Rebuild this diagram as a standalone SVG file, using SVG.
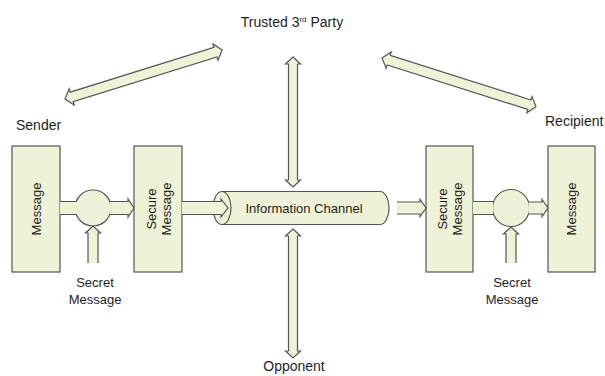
<svg xmlns="http://www.w3.org/2000/svg" width="605" height="376" viewBox="0 0 605 376">
<style>
.f{fill:#eef2d6;stroke:#555;stroke-width:1.2}
.s{fill:#eef2d6;stroke:none}
.o{fill:none;stroke:#555;stroke-width:1.2}
text{font-family:"Liberation Sans",Arial,sans-serif;fill:#1e1e1e}
.l{font-size:14px}
.m{font-size:13px;text-anchor:middle}
</style>
<rect width="605" height="376" fill="#fff"/>

<g id="trusted"><text class="l" x="292" y="27" text-anchor="middle">Trusted 3<tspan font-size="8" dy="-5">rd</tspan><tspan dy="5"> Party</tspan></text></g>
<g id="sender-label"><text class="l" x="16" y="130">Sender</text></g>
<g id="recipient-label"><text class="l" x="545" y="126">Recipient</text></g>
<g id="opponent"><text class="l" x="294" y="371" text-anchor="middle">Opponent</text></g>

<g id="msg-left"><rect class="f" x="12" y="146" width="48" height="126"/><text class="m" transform="translate(40.5,209) rotate(-90)">Message</text></g>
<g id="enc-left"><circle class="f" cx="93" cy="208" r="18"/></g>
<g id="sec-left"><rect class="f" x="134" y="146" width="48" height="126"/><text class="m" transform="translate(155.5,209) rotate(-90)">Secure</text><text class="m" transform="translate(170.5,209) rotate(-90)">Message</text></g>
<g id="channel"><path class="f" d="M222,191.5 L380,191.5 A9,16.5 0 0 1 380,224.5 L222,224.5 A9,16.5 0 0 1 222,191.5 Z"/><path class="o" d="M222,191.5 A9,16.5 0 0 1 222,224.5"/><text x="304" y="212.5" font-size="13" text-anchor="middle">Information Channel</text></g>
<g id="sec-right"><rect class="f" x="426" y="146" width="47" height="126"/><text class="m" transform="translate(446.5,209) rotate(-90)">Secure</text><text class="m" transform="translate(461.5,209) rotate(-90)">Message</text></g>
<g id="dec-right"><circle class="f" cx="511" cy="208" r="18.5"/></g>
<g id="msg-right"><rect class="f" x="548" y="146" width="47" height="126"/><text class="m" transform="translate(576,209) rotate(-90)">Message</text></g>
<g id="secret-left"><text class="m" x="95" y="287">Secret</text><text class="m" x="95" y="304">Message</text></g>
<g id="secret-right"><text class="m" x="512" y="287">Secret</text><text class="m" x="512" y="304">Message</text></g>

<g id="connectors">
<path class="f" transform="translate(65,99) rotate(-17.3)" d="M0,0 L7,-8.5 L7,-5 L157.6,-5 L157.6,-8.5 L164.6,0 L157.6,8.5 L157.6,5 L7,5 L7,8.5 Z"/>
<path class="f" transform="translate(382,58) rotate(17.6)" d="M0,0 L7,-8.5 L7,-5 L154.6,-5 L154.6,-8.5 L161.6,0 L154.6,8.5 L154.6,5 L7,5 L7,8.5 Z"/>
<path class="f" transform="translate(293,57) rotate(90)" d="M0,0 L7,-7.5 L7,-4.5 L123,-4.5 L123,-7.5 L130,0 L123,7.5 L123,4.5 L7,4.5 L7,7.5 Z"/>
<path class="f" transform="translate(293,229) rotate(90)" d="M0,0 L7,-7.5 L7,-4.5 L122,-4.5 L122,-7.5 L129,0 L122,7.5 L122,4.5 L7,4.5 L7,7.5 Z"/>
<rect class="s" x="60" y="201.5" width="17" height="13"/>
<path class="o" d="M60,201.5 L76.8,201.5 M60,214.5 L76.8,214.5"/>
<path class="s" d="M109.8,201.5 L128,201.5 L128,199 L134,208 L128,217 L128,214.5 L109.8,214.5 Z"/>
<path class="o" d="M109.8,201.5 L128,201.5 L128,199 L134,208 L128,217 L128,214.5 L109.8,214.5"/>
<path class="s" d="M88,263 L88,233 L85.5,233 L93,226 L100.5,233 L98,233 L98,263 Z"/>
<path class="o" d="M88,263 L88,233 L85.5,233 L93,226 L100.5,233 L98,233 L98,263"/>
<path class="s" d="M182,201.5 L221,201.5 L221,199 L228,208 L221,217 L221,214.5 L182,214.5 Z"/>
<path class="o" d="M182,201.5 L221,201.5 L221,199 L228,208 L221,217 L221,214.5 L182,214.5"/>
<path class="s" d="M397,202 L420,202 L420,199.5 L426,208 L420,216.5 L420,214 L397,214 Z"/>
<path class="o" d="M397,202 L420,202 L420,199.5 L426,208 L420,216.5 L420,214 L397,214"/>
<rect class="s" x="473" y="201.5" width="20" height="13"/>
<path class="o" d="M473,201.5 L493.5,201.5 M473,214.5 L493.5,214.5"/>
<path class="s" d="M528.5,202 L542,202 L542,199.5 L548,208 L542,216.5 L542,214 L528.5,214 Z"/>
<path class="o" d="M528.5,202 L542,202 L542,199.5 L548,208 L542,216.5 L542,214 L528.5,214"/>
<path class="s" d="M506,263 L506,234 L503.5,234 L511,227 L518.5,234 L516,234 L516,263 Z"/>
<path class="o" d="M506,263 L506,234 L503.5,234 L511,227 L518.5,234 L516,234 L516,263"/>
</g>
</svg>
